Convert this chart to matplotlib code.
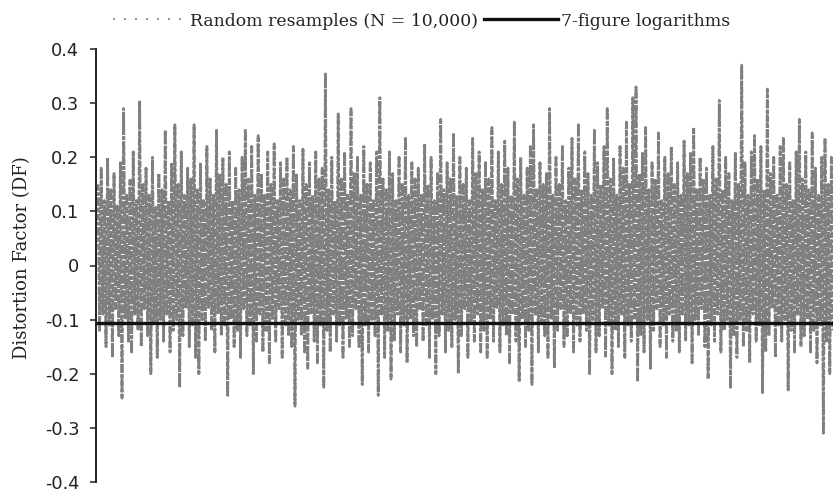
import numpy as np
import matplotlib
matplotlib.use("Agg")
import matplotlib.pyplot as plt
from matplotlib.lines import Line2D

# Upper / lower excursions of the resampled Distortion Factor series,
# read left-to-right across the chart (resample order)
upper = [
    0.15, 0.18, 0.12, 0.20, 0.14, 0.17, 0.11, 0.19, 0.29, 0.13,
    0.16, 0.21, 0.12, 0.305, 0.15, 0.18, 0.13, 0.20, 0.11, 0.17,
    0.14, 0.25, 0.12, 0.19, 0.26, 0.15, 0.21, 0.13, 0.18, 0.16,
    0.26, 0.14, 0.19, 0.12, 0.22, 0.16, 0.13, 0.25, 0.17, 0.20,
    0.15, 0.21, 0.12, 0.18, 0.14, 0.20, 0.25, 0.16, 0.22, 0.13,
    0.24, 0.17, 0.13, 0.21, 0.15, 0.225, 0.12, 0.19, 0.16, 0.20,
    0.14, 0.22, 0.17, 0.12, 0.215, 0.15, 0.19, 0.13, 0.21, 0.16,
    0.18, 0.354, 0.14, 0.20, 0.12, 0.28, 0.16, 0.21, 0.13, 0.29,
    0.17, 0.20, 0.13, 0.22, 0.15, 0.19, 0.12, 0.21, 0.31, 0.16,
    0.14, 0.21, 0.17, 0.12, 0.20, 0.15, 0.235, 0.13, 0.19, 0.16,
    0.18, 0.13, 0.225, 0.15, 0.20, 0.12, 0.17, 0.27, 0.14, 0.19,
    0.16, 0.245, 0.13, 0.20, 0.15, 0.18, 0.12, 0.235, 0.17, 0.21,
    0.14, 0.19, 0.16, 0.255, 0.12, 0.21, 0.15, 0.23, 0.18, 0.13,
    0.265, 0.16, 0.20, 0.13, 0.18, 0.22, 0.26, 0.14, 0.19, 0.15,
    0.17, 0.29, 0.13, 0.20, 0.15, 0.22, 0.12, 0.18, 0.235, 0.16,
    0.26, 0.14, 0.21, 0.17, 0.13, 0.25, 0.19, 0.15, 0.22, 0.29,
    0.16, 0.20, 0.13, 0.22, 0.18, 0.265, 0.15, 0.31, 0.33, 0.17,
    0.21, 0.255, 0.14, 0.19, 0.16, 0.245, 0.12, 0.20, 0.17, 0.22,
    0.15, 0.19, 0.13, 0.23, 0.17, 0.21, 0.255, 0.14, 0.20, 0.16,
    0.18, 0.13, 0.22, 0.16, 0.305, 0.14, 0.20, 0.17, 0.12, 0.21,
    0.15, 0.37, 0.19, 0.13, 0.21, 0.24, 0.16, 0.22, 0.14, 0.326,
    0.17, 0.20, 0.13, 0.22, 0.235, 0.15, 0.19, 0.12, 0.21, 0.27,
    0.16, 0.21, 0.14, 0.245, 0.18, 0.13, 0.20, 0.235, 0.15, 0.20,
]
lower = [
    -0.12, -0.09, -0.15, -0.11, -0.17, -0.08, -0.13, -0.245, -0.10, -0.14,
    -0.16, -0.09, -0.12, -0.15, -0.08, -0.13, -0.20, -0.11, -0.17, -0.10,
    -0.14, -0.09, -0.16, -0.12, -0.10, -0.225, -0.13, -0.08, -0.15, -0.11,
    -0.17, -0.20, -0.10, -0.14, -0.08, -0.12, -0.16, -0.09, -0.13, -0.11,
    -0.24, -0.10, -0.15, -0.12, -0.17, -0.08, -0.13, -0.11, -0.20, -0.14,
    -0.09, -0.16, -0.12, -0.18, -0.10, -0.14, -0.08, -0.17, -0.11, -0.13,
    -0.15, -0.26, -0.10, -0.13, -0.16, -0.19, -0.09, -0.14, -0.18, -0.11,
    -0.225, -0.12, -0.16, -0.09, -0.14, -0.11, -0.17, -0.10, -0.15, -0.13,
    -0.08, -0.15, -0.22, -0.11, -0.16, -0.10, -0.13, -0.24, -0.09, -0.17,
    -0.12, -0.21, -0.14, -0.09, -0.16, -0.11, -0.18, -0.10, -0.13, -0.15,
    -0.08, -0.14, -0.11, -0.17, -0.10, -0.20, -0.13, -0.09, -0.16, -0.12,
    -0.15, -0.10, -0.20, -0.13, -0.08, -0.17, -0.11, -0.14, -0.09, -0.16,
    -0.12, -0.17, -0.10, -0.14, -0.08, -0.16, -0.11, -0.13, -0.18, -0.09,
    -0.14, -0.215, -0.10, -0.15, -0.12, -0.22, -0.09, -0.16, -0.11, -0.13,
    -0.17, -0.10, -0.19, -0.12, -0.08, -0.15, -0.13, -0.09, -0.16, -0.11,
    -0.14, -0.09, -0.12, -0.20, -0.10, -0.16, -0.13, -0.08, -0.17, -0.11,
    -0.20, -0.12, -0.15, -0.09, -0.17, -0.11, -0.14, -0.10, -0.215, -0.13,
    -0.16, -0.10, -0.19, -0.12, -0.08, -0.15, -0.11, -0.17, -0.09, -0.14,
    -0.12, -0.16, -0.09, -0.14, -0.11, -0.18, -0.10, -0.13, -0.08, -0.15,
    -0.21, -0.11, -0.14, -0.09, -0.16, -0.12, -0.10, -0.225, -0.13, -0.17,
    -0.10, -0.15, -0.12, -0.18, -0.09, -0.14, -0.11, -0.235, -0.16, -0.13,
    -0.08, -0.17, -0.11, -0.14, -0.10, -0.23, -0.12, -0.16, -0.09, -0.15,
    -0.13, -0.10, -0.16, -0.12, -0.18, -0.11, -0.31, -0.14, -0.20, -0.12,
]
log7_df = -0.106  # 7-figure logarithms
yticks = [-0.4, -0.3, -0.2, -0.1, 0, 0.1, 0.2, 0.3, 0.4]
ytick_labels = ["-0.4", "-0.3", "-0.2", "-0.1", "0", "0.1", "0.2", "0.3", "0.4"]
legend_labels = ["Random resamples (N = 10,000)", "7-figure logarithms"]
ylabel = "Distortion Factor (DF)"

series = np.empty(2 * len(upper))
series[0::2] = upper
series[1::2] = lower
x = np.arange(len(series))

W, H = 833, 496
fig = plt.figure(figsize=(W / 100, H / 100), dpi=100)
ax_left, ax_top, ax_bot = 96, 49, 482
ax = fig.add_axes([ax_left / W, 1 - ax_bot / H, (W - ax_left) / W, (ax_bot - ax_top) / H])

gray = "#7f7f7f"
ax.plot(x, series, color=gray, lw=2.0,
        linestyle=(0, (2.3, 0.55, 1.3, 0.55, 3.1, 0.55, 1.8, 0.55)),
        solid_capstyle="butt", dash_capstyle="butt", solid_joinstyle="miter")
ax.axhline(log7_df, color="#111111", lw=2.4)

n = len(series)
span = W - ax_left - 2
ax.set_xlim(-2 / span * (n - 1), n - 1)
ax.set_ylim(-0.4, 0.4)
ax.set_yticks(yticks)
ax.set_yticklabels(ytick_labels, family="DejaVu Sans", fontsize=12.8, color="#222222")
ax.tick_params(axis="y", direction="out", length=4, width=1.1, pad=8, colors="#222222")
ax.tick_params(axis="x", bottom=False, labelbottom=False)
for s in ["top", "right", "bottom"]:
    ax.spines[s].set_visible(False)
ax.spines["left"].set_linewidth(1.4)
ax.spines["left"].set_color("#222222")

fig.text(22 / W, 1 - 258 / H, ylabel, rotation=90, va="center", ha="center",
         family="DejaVu Serif", fontsize=13, color="#222222")

handles = [
    Line2D([], [], color=gray, lw=1.2, linestyle=(0, (1.2, 5.4))),
    Line2D([], [], color="#111111", lw=2.4),
]
fig.legend(handles, legend_labels, loc="center left",
           bbox_to_anchor=(113 / W, 1 - 21 / H),
           ncol=2, frameon=False, prop={"family": "DejaVu Serif", "size": 12.4},
           handlelength=4.3, handletextpad=0.18, columnspacing=0.35,
           borderpad=0, borderaxespad=0, labelcolor="#222222")

fig.savefig("out.png", dpi=100)
